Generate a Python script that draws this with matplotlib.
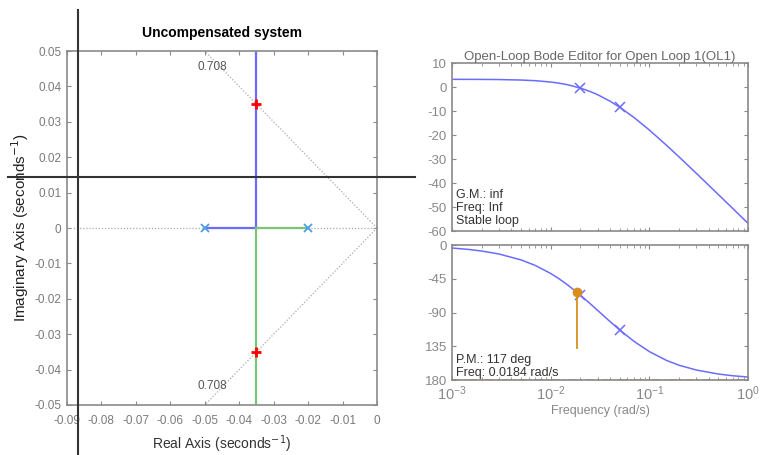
import matplotlib.pyplot as plt
from matplotlib.lines import Line2D
from matplotlib.ticker import FixedLocator, NullFormatter

plt.rcParams["axes.unicode_minus"] = False

# root locus data
ol_poles_re = [-0.05, -0.02]
ol_poles_im = [0, 0]
branch1_re = [-0.05, -0.035, -0.035]
branch1_im = [0, 0, 0.05]
branch2_re = [-0.02, -0.035, -0.035]
branch2_im = [0, 0, -0.05]
cl_re = [-0.035, -0.035]
cl_im = [0.035, -0.035]
zeta_re = [0, -0.05]
zeta_im = [0, 0.05]
zeta_label = "0.708"

# bode data
freq = [0.001, 0.0015, 0.002, 0.003, 0.005, 0.007, 0.01, 0.012, 0.015, 0.02, 0.025,
        0.03, 0.04, 0.05, 0.07, 0.1, 0.15, 0.2, 0.3, 0.5, 0.7, 1.0]
mag_db = [3.2, 3.19, 3.17, 3.11, 2.91, 2.63, 2.08, 1.64, 0.91, -0.44, -1.84,
          -3.23, -5.92, -8.39, -12.72, -17.92, -24.36, -29.12, -36.0, -44.79, -50.6, -56.8]
phase_deg = [-4.0, -6.0, -8.0, -12.0, -19.8, -27.3, -37.9, -44.5, -53.6, -66.8, -77.9,
             -87.3, -102.1, -113.2, -128.5, -142.1, -154.0, -160.3, -166.7, -172.0, -174.3, -176.0]
marker_freq = [0.02, 0.05]
marker_mag = [-0.44, -8.39]
marker_phase = [-66.8, -113.2]
pm_freq = 0.0184
pm_phase = -62.8
pm_line_end = -137

mag_ticks = [10, 0, -10, -20, -30, -40, -50, -60]
phase_ticks = [0, -45, -90, -135, -180]
phase_labels = ["0", "-45", "-90", "135", "180"]

gray = "#8a8a8a"
tick_gray = "#7a7a7a"
blue = "#6b6bff"
green = "#7cc47c"
orange = "#d98e1c"
sans = ["Liberation Sans", "DejaVu Sans"]

fig = plt.figure(figsize=(7.77, 4.55), dpi=100)

# ---- root locus ----
ax = fig.add_axes([0.0862, 0.1099, 0.399, 0.778])
ax.plot([-0.09, 0], [0, 0], color="#aaaaaa", lw=0.9, ls=(0, (1, 1.5)))
ax.plot(zeta_re, zeta_im, color="#aaaaaa", lw=0.9, ls=(0, (1, 1.5)))
ax.plot(zeta_re, [-v for v in zeta_im], color="#aaaaaa", lw=0.9, ls=(0, (1, 1.5)))
ax.plot(branch1_re, branch1_im, color=blue, lw=1.6)
ax.plot(branch2_re, branch2_im, color=green, lw=1.6)
ax.plot(ol_poles_re, ol_poles_im, ls="none", marker="x", color="#4a9fe0", ms=6, mew=1.3)
ax.plot(cl_re, cl_im, ls="none", marker="+", color="red", ms=7, mew=2)
ax.text(-0.0478, 0.0455, zeta_label, ha="center", va="center", fontsize=8.5,
        color="#555555", family=sans)
ax.text(-0.0478, -0.0445, zeta_label, ha="center", va="center", fontsize=8.5,
        color="#555555", family=sans)
ax.set_xlim(-0.09, 0)
ax.set_ylim(-0.05, 0.05)
ax.set_xticks([-0.09, -0.08, -0.07, -0.06, -0.05, -0.04, -0.03, -0.02, -0.01, 0])
ax.set_xticklabels(["-0.09", "-0.08", "-0.07", "-0.06", "-0.05", "-0.04", "-0.03",
                    "-0.02", "-0.01", "0"])
ax.set_yticks([-0.05, -0.04, -0.03, -0.02, -0.01, 0, 0.01, 0.02, 0.03, 0.04, 0.05])
ax.set_yticklabels(["-0.05", "-0.04", "-0.03", "-0.02", "-0.01", "0", "0.01", "0.02",
                    "0.03", "0.04", "0.05"])
ax.tick_params(direction="in", top=True, right=True, length=3, color=gray,
               labelcolor=tick_gray, labelsize=8.5, pad=4)
ax.tick_params(axis="x", pad=7)
for lab in ax.get_xticklabels() + ax.get_yticklabels():
    lab.set_family(sans)
for sp in ax.spines.values():
    sp.set_color(gray)
    sp.set_linewidth(1.2)
ax.set_title("Uncompensated system", fontsize=10, fontweight="bold", family=sans, pad=10)
ax.set_xlabel("Real Axis (seconds$^{-1}$)", fontsize=10, family=sans, color="#333333")
ax.xaxis.set_label_coords(0.5, -0.08)
ax.set_ylabel("Imaginary Axis (seconds$^{-1}$)", fontsize=11, family=sans, color="#222222")
ax.yaxis.set_label_coords(-0.115, 0.5)

# ---- bode magnitude ----
am = fig.add_axes([0.5817, 0.4923, 0.381, 0.3692])
am.semilogx(freq, mag_db, color=blue, lw=1.1)
am.plot(marker_freq, marker_mag, ls="none", marker="x", color=blue, ms=7, mew=1.1)
am.set_xlim(1e-3, 1)
am.set_ylim(-60, 10)
am.yaxis.set_major_locator(FixedLocator(mag_ticks))
am.xaxis.set_major_formatter(NullFormatter())
am.xaxis.set_minor_formatter(NullFormatter())
am.text(0.012, 0.135, "G.M.: inf\nFreq: Inf\nStable loop", transform=am.transAxes,
        fontsize=9, family=sans, color="#333333", va="center", linespacing=1.1)
am.set_title("Open-Loop Bode Editor for Open Loop 1(OL1)", fontsize=9.5, family=sans,
             color="#666666", pad=-1)

# ---- bode phase ----
ap = fig.add_axes([0.5817, 0.1648, 0.381, 0.2967])
ap.semilogx(freq, phase_deg, color=blue, lw=1.1)
ap.plot(marker_freq, marker_phase, ls="none", marker="x", color=blue, ms=7, mew=1.1)
ap.plot([1e-3, 1], [-180, -180], color=orange, lw=1.2, ls=(0, (5, 2, 1, 2)))
ap.plot([pm_freq, pm_freq], [pm_phase, pm_line_end], color=orange, lw=1.3)
ap.plot([pm_freq], [pm_phase], ls="none", marker="o", color=orange, ms=6)
ap.set_xlim(1e-3, 1)
ap.set_ylim(-180, 0)
ap.set_yticks(phase_ticks)
ap.set_yticklabels(phase_labels)
ap.set_xticks([1e-3, 1e-2, 1e-1, 1])
ap.xaxis.set_minor_formatter(NullFormatter())
ap.text(0.012, 0.1, "P.M.: 117 deg\nFreq: 0.0184 rad/s", transform=ap.transAxes,
        fontsize=9, family=sans, color="#333333", va="center", linespacing=1.1)
ap.set_xlabel("Frequency (rad/s)", fontsize=9, family=sans, color="#888888", labelpad=1)

for a in (am, ap):
    a.tick_params(which="both", direction="in", top=True, right=True, color=gray,
                  labelcolor="#888888", labelsize=9.5)
    a.tick_params(which="major", length=3)
    a.tick_params(which="minor", length=2)
    for lab in a.get_xticklabels() + a.get_yticklabels():
        lab.set_family(sans)
    for sp in a.spines.values():
        sp.set_color(gray)
        sp.set_linewidth(1.2)
ap.tick_params(axis="x", labelsize=10.5)

# overlay lines on the screenshot
fig.add_artist(Line2D([78 / 777, 78 / 777], [1 - 10 / 455, 0], transform=fig.transFigure,
                      color="#333333", lw=1.5))
fig.add_artist(Line2D([8 / 777, 415 / 777], [1 - 177 / 455, 1 - 177 / 455],
                      transform=fig.transFigure, color="#333333", lw=1.5))

fig.savefig("out.png", dpi=100)
